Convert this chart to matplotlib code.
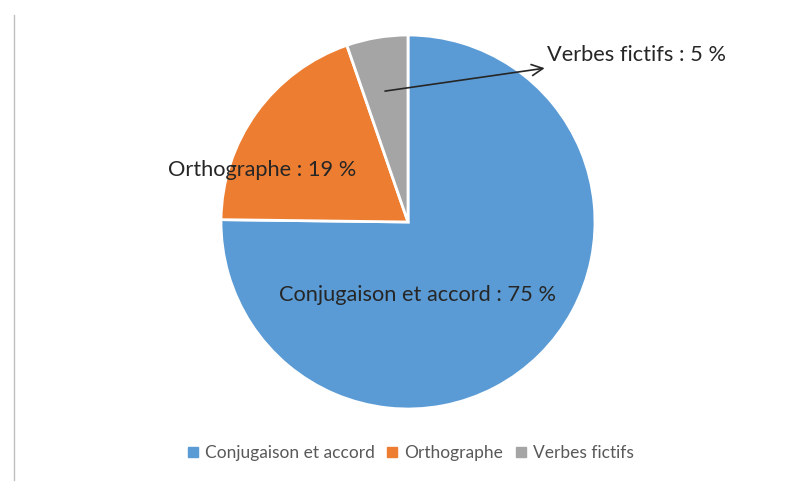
import matplotlib.pyplot as plt
from matplotlib.lines import Line2D

# Parts of the pie, clockwise from the top
categories = ["Conjugaison et accord", "Orthographe", "Verbes fictifs"]
values = [75.2, 19.5, 5.3]
labels_pct = ["75 %", "19 %", "5 %"]
colors = ["#5B9BD5", "#ED7D31", "#A5A5A5"]

plt.rcParams["font.family"] = ["Lato", "DejaVu Sans"]

fig = plt.figure(figsize=(7.91, 4.86), dpi=100)

# pie axes: centre ~ (408, 222) px, radius ~187 px
cx, cy, r = 408 / 791, 1 - 222 / 486, 187
ax = fig.add_axes([cx - r / 791, cy - r / 486, 2 * r / 791, 2 * r / 486])
ax.pie(values, colors=colors, startangle=90, counterclock=False,
       wedgeprops=dict(edgecolor="white", linewidth=2))
ax.set_xlim(-1, 1)
ax.set_ylim(-1, 1)
ax.set_aspect("equal")
ax.axis("off")

ax.text(0.053, -0.39, f"{categories[0]} : {labels_pct[0]}", fontsize=15.7,
        ha="center", va="center", color="#262626")
ax.text(-0.781, 0.278, f"{categories[1]} : {labels_pct[1]}", fontsize=15.7,
        ha="center", va="center", color="#262626")
ax.annotate(f"{categories[2]} : {labels_pct[2]}", xy=(-0.123, 0.70),
            xytext=(0.743, 0.893), fontsize=15.7, ha="left", va="center",
            color="#262626",
            arrowprops=dict(arrowstyle="<-", color="#262626", lw=1.2,
                            mutation_scale=20, shrinkB=0))

# legend along the bottom
handles = [Line2D([], [], marker="s", linestyle="none", markersize=7,
                  markerfacecolor=c, markeredgecolor=c) for c in colors]
leg = fig.legend(handles, categories, loc="center", ncol=3,
                 bbox_to_anchor=(0.518, 0.068), frameon=False, fontsize=12.5,
                 handletextpad=0.3, columnspacing=0.6, handlelength=0.8)
for t in leg.get_texts():
    t.set_color("#595959")

# left frame edge of the chart area
fig.add_artist(Line2D([14 / 791, 14 / 791], [1 - 15 / 486, 1 - 480 / 486],
                      color="#BFBFBF", lw=1))

fig.savefig("out.png", dpi=100)
